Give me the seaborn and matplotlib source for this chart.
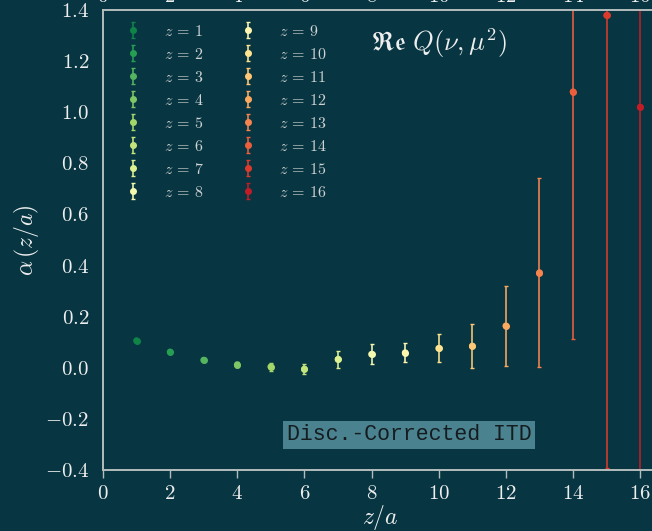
import numpy as np
import pandas as pd
import matplotlib
matplotlib.use("Agg")
import matplotlib.pyplot as plt
import seaborn as sns

# Real part of the reduced ITD, one point per separation z/a
z_sep = [1, 2, 3, 4, 5, 6, 7, 8, 9, 10, 11, 12, 13, 14, 15, 16]
alpha_val = [0.106, 0.062, 0.030, 0.012, 0.004, -0.005, 0.033, 0.053,
             0.059, 0.076, 0.085, 0.164, 0.372, 1.080, 1.379, 1.020]
alpha_err = [0.006, 0.006, 0.008, 0.010, 0.015, 0.018, 0.034, 0.039,
             0.037, 0.055, 0.086, 0.157, 0.369, 0.969, 1.772, 1.900]

x_ticks = [0, 2, 4, 6, 8, 10, 12, 14, 16]
y_ticks = [-0.4, -0.2, 0.0, 0.2, 0.4, 0.6, 0.8, 1.0, 1.2, 1.4]

BG = "#073642"
FG = "#eeeeee"
SPINE = "#b4bcbc"

sns.set_theme(style="dark", rc={
    "figure.facecolor": BG,
    "axes.facecolor": BG,
    "savefig.facecolor": BG,
    "axes.edgecolor": SPINE,
    "axes.grid": False,
    "xtick.color": SPINE,
    "ytick.color": SPINE,
    "xtick.labelcolor": FG,
    "ytick.labelcolor": FG,
    "axes.labelcolor": FG,
    "text.color": FG,
})
plt.rcParams["font.family"] = ["serif"]
plt.rcParams["font.serif"] = ["cmr10", "DejaVu Serif"]
plt.rcParams["mathtext.fontset"] = "cm"
plt.rcParams["axes.formatter.use_mathtext"] = True

df = pd.DataFrame({"z": z_sep, "alpha": alpha_val, "err": alpha_err})
palette = sns.color_palette("RdYlGn_r", len(z_sep))

fig = plt.figure(figsize=(6.52, 5.31), dpi=100)
ax = fig.add_axes([103 / 652, 61 / 531, 554 / 652, 460 / 531])

for i, row in df.iterrows():
    ax.errorbar(row["z"], row["alpha"], yerr=row["err"], fmt="o",
                color=palette[i], ms=4, elinewidth=1.15, capsize=1.6,
                capthick=1.0, label=rf"$z\,=\,{int(row['z'])}$")

sns.scatterplot(data=df, x="z", y="alpha", hue="z", palette=palette,
                s=24, linewidth=0, legend=False, ax=ax, zorder=3)

ax.set_xlim(0, 16.5)
ax.set_ylim(-0.4, 1.4)
ax.set_xticks(x_ticks)
ax.set_yticks(y_ticks)
ax.tick_params(axis="both", which="major", labelsize=15, length=6,
               width=1, direction="out")
ax.tick_params(axis="x", pad=5)
ax.tick_params(axis="y", pad=4)

# duplicate x labels along the top edge, without tick marks
top = ax.twiny()
top.set_xlim(ax.get_xlim())
top.set_xticks(x_ticks)
top.tick_params(axis="x", labelsize=15, length=0, pad=3)
top.spines["right"].set_visible(False)

ax.set_xlabel(r"$z/a$", fontsize=17, labelpad=0)
ax.set_ylabel(r"$\alpha\,\left(z/a\right)$", fontsize=17, labelpad=3)

ax.spines["right"].set_visible(False)

ax.text(7.98, 1.27, r"$\mathfrak{Re}\ Q(\nu, \mu^2)$", fontsize=19,
        color=FG, va="center", ha="left")

ax.text(5.47, -0.263, "Disc.-Corrected ITD", fontsize=15.5,
        family="Liberation Mono", color="#141c1f", va="center", ha="left",
        bbox=dict(facecolor="#4a828f", edgecolor="none", pad=2.5))

leg = ax.legend(ncol=2, loc="upper left", bbox_to_anchor=(0.0, 1.0),
                frameon=False, fontsize=11.5, labelspacing=0.5,
                handlelength=2.0, columnspacing=1.8, handletextpad=0.94,
                borderaxespad=0.47)
for t in leg.get_texts():
    t.set_color("#cfd3d3")

fig.savefig("out.png", dpi=100, facecolor=BG)
